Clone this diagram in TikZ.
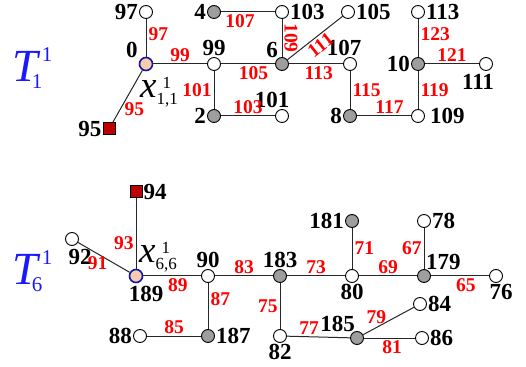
\documentclass[tikz,border=0pt]{standalone}
\usepackage{amsmath}
\usepackage{fontspec}
\setmainfont{Liberation Serif}
\usepackage{tikz}
\usepackage{xcolor}
\usetikzlibrary{positioning}
\tikzset{w-node/.style={circle, draw=black, fill=white, line width=0.9pt, minimum size=13pt, inner sep=0pt},
g-node/.style={w-node, fill=c_grey},
r-node/.style={w-node, fill=c_root, draw=c_ring, line width=1.6pt},
s-node/.style={rectangle, draw=black, fill=c_sink, line width=1pt, minimum size=12pt, inner sep=0pt},
edge/.style={line width=1pt, draw=black!85},
elab/.style={text=red, font=\bfseries\fontsize{19.5}{19.5}\selectfont, inner sep=2pt},
every label/.style={font=\bfseries\fontsize{23}{23}\selectfont, inner sep=1pt, text=black}}
\definecolor{c_grey}{rgb}{0.62, 0.62, 0.62}
\definecolor{c_root}{rgb}{0.98, 0.80, 0.68}
\definecolor{c_ring}{rgb}{0.05, 0.10, 0.65}
\definecolor{c_sink}{rgb}{0.75, 0.0, 0.0}
\definecolor{c_title}{rgb}{0.1, 0.1, 1.0}
\newcommand{\sz}[1]{\text{\fontsize{17}{17}\selectfont #1}}
\newcommand{\tz}[1]{\text{\fontsize{21}{21}\selectfont #1}}

\begin{document}
\begin{tikzpicture}[x=1pt, y=1pt, node distance=68pt]
\useasboundingbox (0,0) rectangle (526,366);
% first tree
\node (v0) [r-node, label={[xshift=-2pt]above left:0}] at (146,302) {};
\node (v97) [w-node, above of=v0, node distance=52pt, label=left:97] {};
\node (v95) [s-node, below of=v0, node distance=65pt, xshift=-37pt, label=left:95] {};
\node (v99) [w-node, right of=v0, label=above:99] {};
\node (v2) [g-node, below of=v99, node distance=52pt, label=left:2] {};
\node (v101) [w-node, right of=v2, label={[xshift=-10pt]above:101}] {};
\node (v4) [g-node, above of=v99, node distance=52pt, label=left:4] {};
\node (v103) [w-node, right of=v4, label=right:103] {};
\node (v6) [g-node, right of=v99, label={[xshift=2pt]above left:6}] {};
\node (v105) [w-node, above of=v6, node distance=52pt, xshift=66pt, label=right:105] {};
\node (v107) [w-node, right of=v6, label={[xshift=-6pt]above:107}] {};
\node (v8) [g-node, below of=v107, node distance=52pt, label=left:8] {};
\node (v109) [w-node, right of=v8, label={[label distance=4pt]right:109}] {};
\node (v10) [g-node, right of=v107, label=left:10] {};
\node (v113) [w-node, above of=v10, node distance=52pt, label=right:113] {};
\node (v111) [w-node, right of=v10, label={[xshift=-8pt, label distance=2pt]below:111}] {};
\draw [edge] (v0) -- node[elab, pos=0.6, right] {97} (v97);
\draw [edge] (v0) -- node[elab, above] {99} (v99);
\draw [edge] (v0) -- node[elab, pos=0.75, right, xshift=2pt] {95} (v95);
\draw [edge] (v99) -- node[elab, left] {101} (v2);
\draw [edge] (v2) -- node[elab, above] {103} (v101);
\draw [edge] (v99) -- node[elab, pos=0.6, below] {105} (v6);
\draw [edge] (v4) -- node[elab, pos=0.35, below] {107} (v103);
\draw [edge] (v103) -- node[elab, midway, rotate=-90, anchor=south] {109} (v6);
\draw [edge] (v6) -- node[elab, pos=0.5, sloped, below] {111} (v105);
\draw [edge] (v6) -- node[elab, pos=0.55, below] {113} (v107);
\draw [edge] (v107) -- node[elab, right] {115} (v8);
\draw [edge] (v8) -- node[elab, pos=0.6, above] {117} (v109);
\draw [edge] (v10) -- node[elab, pos=0.6, right] {123} (v113);
\draw [edge] (v10) -- node[elab, above] {121} (v111);
\draw [edge] (v10) -- node[elab, right] {119} (v109);
\node (x11) [anchor=base west, inner sep=0pt] at (140,268) {\fontsize{37}{37}\selectfont $\text{\itshape x}^{\kern6pt\sz{1}}_{\sz{1,1}}$};
\node (t11) [anchor=base west, inner sep=0pt, text=c_title] at (12,284) {\fontsize{46}{46}\selectfont $\text{\itshape T}^{\kern4pt\tz{1}}_{\kern-6pt\tz{1}}$};
% second tree
\node (v189) [r-node, label={[xshift=10pt, label distance=2pt]below:189}] at (136,90) {};
\node (v94) [s-node, above of=v189, node distance=84pt, label=right:94] {};
\node (v92) [w-node, above of=v189, node distance=37pt, xshift=-64pt, label={[xshift=8pt, label distance=2pt]below:92}] {};
\node (v90) [w-node, right of=v189, node distance=72pt, label=above:90] {};
\node (v187) [g-node, below of=v90, node distance=60pt, label=right:187] {};
\node (v88) [w-node, left of=v187, label=left:88] {};
\node (v183) [g-node, right of=v90, node distance=72pt, label=above:183] {};
\node (v82) [w-node, below of=v183, node distance=60pt, label=below:82] {};
\node (v185) [g-node, right of=v82, node distance=77pt, yshift=-2pt, label={[xshift=4pt]above left:185}] {};
\node (v84) [w-node, right of=v185, node distance=63pt, yshift=34pt, label=right:84] {};
\node (v86) [w-node, right of=v185, node distance=65pt, label=right:86] {};
\node (v80) [w-node, right of=v183, node distance=72pt, label=below:80] {};
\node (v181) [g-node, above of=v80, node distance=55pt, label=left:181] {};
\node (v179) [g-node, right of=v80, node distance=72pt, label={[xshift=-4pt]above right:179}] {};
\node (v78) [w-node, above of=v179, node distance=55pt, label=right:78] {};
\node (v76) [w-node, right of=v179, node distance=72pt, label={[xshift=5pt]below:76}] {};
\draw [edge] (v189) -- node[elab, pos=0.36, left] {93} (v94);
\draw [edge] (v189) -- node[elab, pos=0.62, below] {91} (v92);
\draw [edge] (v189) -- node[elab, pos=0.6, below] {89} (v90);
\draw [edge] (v90) -- node[elab, pos=0.35, right] {87} (v187);
\draw [edge] (v187) -- node[elab, above] {85} (v88);
\draw [edge] (v90) -- node[elab, above] {83} (v183);
\draw [edge] (v183) -- node[elab, left] {75} (v82);
\draw [edge] (v82) -- node[elab, pos=0.35, above] {77} (v185);
\draw [edge] (v185) -- node[elab, pos=0.3, above, xshift=-2pt] {79} (v84);
\draw [edge] (v185) -- node[elab, pos=0.55, below] {81} (v86);
\draw [edge] (v183) -- node[elab, above] {73} (v80);
\draw [edge] (v80) -- node[elab, right] {71} (v181);
\draw [edge] (v80) -- node[elab, above] {69} (v179);
\draw [edge] (v179) -- node[elab, left] {67} (v78);
\draw [edge] (v179) -- node[elab, pos=0.6, below] {65} (v76);
\node (x66) [anchor=base west, inner sep=0pt] at (139,103) {\fontsize{37}{37}\selectfont $\text{\itshape x}^{\kern6pt\sz{1}}_{\sz{6,6}}$};
\node (t61) [anchor=base west, inner sep=0pt, text=c_title] at (12,81) {\fontsize{46}{46}\selectfont $\text{\itshape T}^{\kern4pt\tz{1}}_{\kern-6pt\tz{6}}$};
\end{tikzpicture}
\end{document}
